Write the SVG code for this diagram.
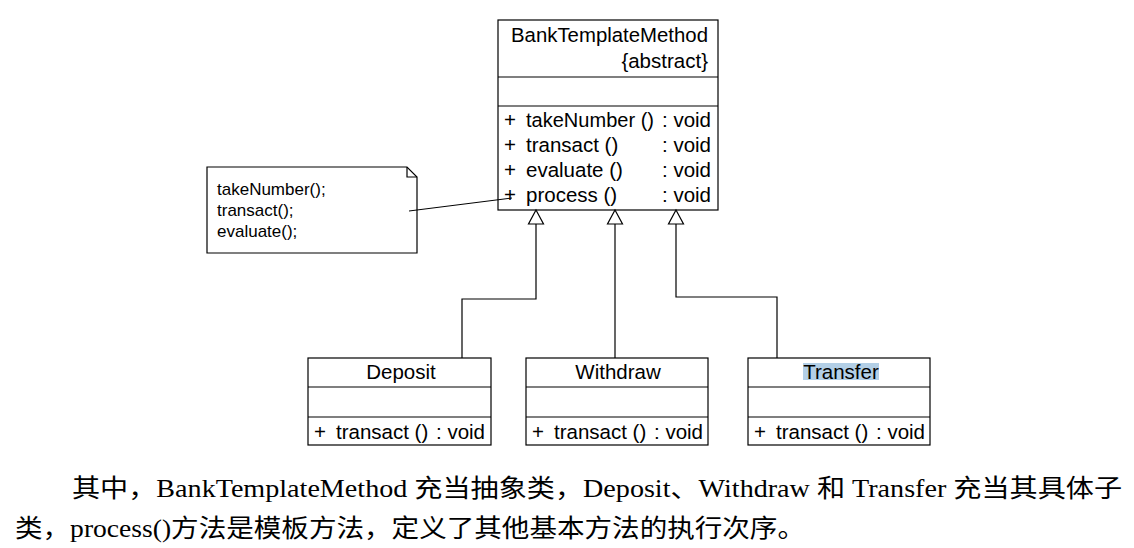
<svg xmlns="http://www.w3.org/2000/svg" width="1134" height="548" viewBox="0 0 1134 548">
<defs>
<style>
.box{fill:#fff;stroke:#000;stroke-width:1.2}
.sep{stroke:#000;stroke-width:1.2}
.t{font-family:"Liberation Sans",Arial,sans-serif;font-size:20.5px;fill:#000}
.n{font-family:"Liberation Sans",Arial,sans-serif;font-size:17px;fill:#000}
.c{fill:none;stroke:#000;stroke-width:1.2}
.h{fill:#fff;stroke:#000;stroke-width:1.2}
.p{font-family:"Liberation Serif","Noto Sans CJK SC",serif;font-size:25px;fill:#000}
</style>
</defs>
<rect width="1134" height="548" fill="#fff"/>

<g id="BankTemplateMethod">
<rect class="box" x="498" y="20" width="220" height="190"/>
<line class="sep" x1="498" y1="77" x2="718" y2="77"/>
<line class="sep" x1="498" y1="106" x2="718" y2="106"/>
<text class="t" x="511" y="42" textLength="197" lengthAdjust="spacingAndGlyphs">BankTemplateMethod</text>
<text class="t" x="708" y="68" text-anchor="end">{abstract}</text>
<text class="t" x="504" y="127">+</text><text class="t" x="526" y="127" textLength="128" lengthAdjust="spacingAndGlyphs">takeNumber ()</text><text class="t" x="711" y="127" text-anchor="end">: void</text>
<text class="t" x="504" y="152">+</text><text class="t" x="526" y="152">transact ()</text><text class="t" x="711" y="152" text-anchor="end">: void</text>
<text class="t" x="504" y="177">+</text><text class="t" x="526" y="177">evaluate ()</text><text class="t" x="711" y="177" text-anchor="end">: void</text>
<text class="t" x="504" y="202">+</text><text class="t" x="526" y="202">process ()</text><text class="t" x="711" y="202" text-anchor="end">: void</text>
</g>

<g id="note">
<path class="box" d="M207,167 H407 L417,177 V253 H207 Z"/>
<path class="c" d="M407,167 V177 H417"/>
<text class="n" x="217" y="195">takeNumber();</text>
<text class="n" x="217" y="216">transact();</text>
<text class="n" x="217" y="237">evaluate();</text>
</g>

<g id="Deposit">
<rect class="box" x="308" y="358" width="183" height="87"/>
<line class="sep" x1="308" y1="387" x2="491" y2="387"/>
<line class="sep" x1="308" y1="417" x2="491" y2="417"/>
<text class="t" x="401" y="379" text-anchor="middle">Deposit</text>
<text class="t" x="314" y="439">+</text><text class="t" x="336" y="439">transact ()</text><text class="t" x="485" y="439" text-anchor="end">: void</text>
</g>

<g id="Withdraw">
<rect class="box" x="526" y="358" width="182" height="87"/>
<line class="sep" x1="526" y1="387" x2="708" y2="387"/>
<line class="sep" x1="526" y1="417" x2="708" y2="417"/>
<text class="t" x="618" y="379" text-anchor="middle">Withdraw</text>
<text class="t" x="532" y="439">+</text><text class="t" x="554" y="439">transact ()</text><text class="t" x="703" y="439" text-anchor="end">: void</text>
</g>

<g id="Transfer">
<rect class="box" x="748" y="358" width="182" height="87"/>
<line class="sep" x1="748" y1="387" x2="930" y2="387"/>
<line class="sep" x1="748" y1="417" x2="930" y2="417"/>
<rect x="803" y="363" width="76" height="17" fill="#b3cfe6"/>
<text class="t" x="841" y="379" text-anchor="middle">Transfer</text>
<text class="t" x="754" y="439">+</text><text class="t" x="776" y="439">transact ()</text><text class="t" x="925" y="439" text-anchor="end">: void</text>
</g>

<g id="connectors">
<path class="c" d="M462,358 V299 H536 V224"/>
<path class="c" d="M615,358 V224"/>
<path class="c" d="M777,358 V297 H676 V224"/>
<path class="h" d="M536,210 L543.5,224 L528.5,224 Z"/>
<path class="h" d="M615,210 L622.5,224 L607.5,224 Z"/>
<path class="h" d="M676,210 L683.5,224 L668.5,224 Z"/>
<line x1="409" y1="211" x2="512" y2="198" stroke="#000" stroke-width="1"/>
</g>

<g id="caption">
<text class="p" x="72" y="497" textLength="1050" lengthAdjust="spacingAndGlyphs">其中，BankTemplateMethod 充当抽象类，Deposit、Withdraw 和 Transfer 充当其具体子</text>
<text class="p" x="15" y="537" textLength="790" lengthAdjust="spacingAndGlyphs">类，process()方法是模板方法，定义了其他基本方法的执行次序。</text>
</g>
</svg>
